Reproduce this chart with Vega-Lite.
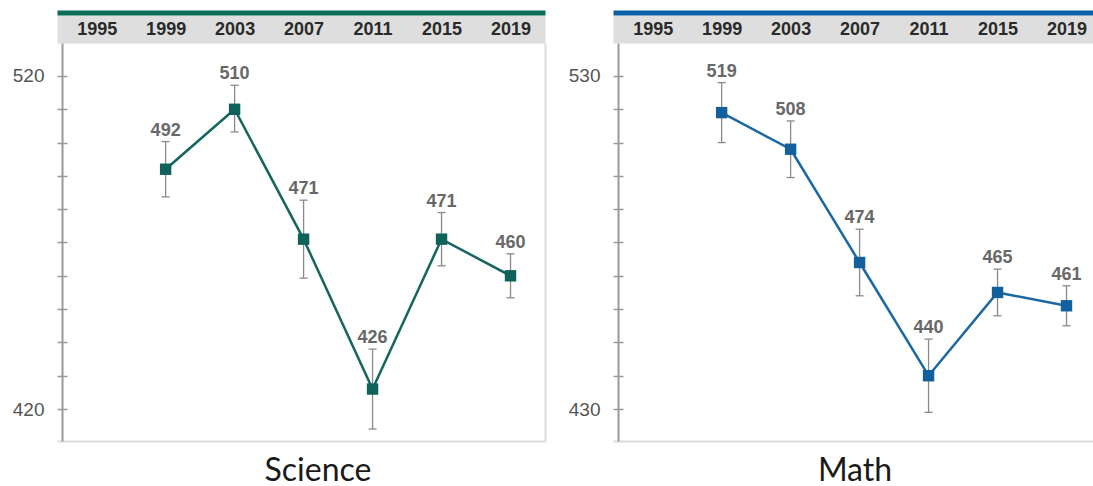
{
  "$schema": "https://vega.github.io/schema/vega-lite/v6.json",
  "padding": {"left": 12, "top": 12, "right": 0, "bottom": 0},
  "background": "white",
  "config": {"view": {"stroke": null}, "axis": {"grid": false}},
  "spacing": 23,
  "datasets": {
    "scores": [
      {"subject": "Science", "year": 1999, "score": 492, "lo": 483.7, "hi": 500.3},
      {"subject": "Science", "year": 2003, "score": 510, "lo": 503.2, "hi": 517.2},
      {"subject": "Science", "year": 2007, "score": 471, "lo": 459.3, "hi": 482.7},
      {"subject": "Science", "year": 2011, "score": 426, "lo": 414, "hi": 438},
      {"subject": "Science", "year": 2015, "score": 471, "lo": 463, "hi": 479},
      {"subject": "Science", "year": 2019, "score": 460, "lo": 453.4, "hi": 466.6},
      {"subject": "Math", "year": 1999, "score": 519, "lo": 510, "hi": 528},
      {"subject": "Math", "year": 2003, "score": 508, "lo": 499.5, "hi": 516.5},
      {"subject": "Math", "year": 2007, "score": 474, "lo": 464, "hi": 484},
      {"subject": "Math", "year": 2011, "score": 440, "lo": 429, "hi": 451},
      {"subject": "Math", "year": 2015, "score": 465, "lo": 458, "hi": 472},
      {"subject": "Math", "year": 2019, "score": 461, "lo": 455, "hi": 467}
    ]
  },
  "data": {"name": "scores"},
  "hconcat": [
    {
      "width": 488,
      "height": 398,
      "title": {"text": "Science", "orient": "bottom", "frame": "group", "anchor": "middle", "dx": 17, "offset": 15, "fontSize": 32, "font": "Lato", "fontWeight": "normal", "color": "#1a1a1a"},
      "transform": [{"filter": "datum.subject == 'Science'"}],
      "layer": [
        {
          "mark": {"type": "rule", "color": "#8a8a8a", "strokeWidth": 1.3},
          "encoding": {
            "x": {"field": "year", "type": "quantitative", "scale": {"domain": [1992.7, 2021], "nice": false, "zero": false},
              "axis": {"orient": "top", "title": null, "offset": 14, "domainWidth": 28, "domainColor": "#dedede", "domainCap": "butt", "ticks": false, "tickSize": 0, "labels": false, "zindex": 0}},
            "y": {"field": "lo", "type": "quantitative", "scale": {"domain": [410.4, 529.9], "nice": false, "zero": false},
              "axis": {"orient": "left", "offset": -10, "values": [420, 430, 440, 450, 460, 470, 480, 490, 500, 510, 520], "tickSize": 10, "tickColor": "#999999", "tickWidth": 1.5, "domain": false, "labels": false, "title": null}},
            "y2": {"field": "hi"}
          }
        },
        {
          "mark": {"type": "line", "color": "#15665e", "strokeWidth": 2.5},
          "encoding": {
            "x": {"field": "year", "type": "quantitative",
              "axis": {"orient": "top", "offset": 30.5, "domainWidth": 5, "domainColor": "#0b6e5a", "domainCap": "butt", "ticks": false, "tickSize": 0, "labels": false, "title": null}},
            "y": {"field": "score", "type": "quantitative",
              "axis": {"orient": "left", "offset": -5, "values": [420, 520], "ticks": false, "tickSize": 0, "domainColor": "#999999", "domainWidth": 2, "labelPadding": 18, "labelFont": "Liberation Sans", "labelFontSize": 19, "labelColor": "#555555", "title": null}}
          }
        },
        {
          "mark": {"type": "square", "color": "#0f625a", "filled": true, "opacity": 1, "size": 130},
          "encoding": {
            "x": {"field": "year", "type": "quantitative",
              "axis": {"orient": "bottom", "domainColor": "#dcdcdc", "domainWidth": 2, "ticks": false, "tickSize": 0, "labels": false, "title": null}},
            "y": {"field": "score", "type": "quantitative",
              "axis": {"orient": "right", "domainColor": "#dcdcdc", "domainWidth": 2, "ticks": false, "tickSize": 0, "labels": false, "title": null}}
          }
        },
        {
          "mark": {"type": "tick", "orient": "horizontal", "size": 8, "thickness": 1.3, "color": "#8a8a8a", "opacity": 1},
          "encoding": {
            "x": {"field": "year", "type": "quantitative",
              "axis": {"orient": "top", "values": [1995, 1999, 2003, 2007, 2011, 2015, 2019], "format": "d", "title": null, "offset": 14, "domain": false, "ticks": false, "tickSize": 0, "labelPadding": 0, "labelBaseline": "middle", "labelFlush": false, "labelFont": "Liberation Sans", "labelFontSize": 18, "labelFontWeight": "bold", "labelColor": "#2a2a2a", "zindex": 2}},
            "y": {"field": "lo", "type": "quantitative", "axis": null}
          }
        },
        {
          "mark": {"type": "tick", "orient": "horizontal", "size": 8, "thickness": 1.3, "color": "#8a8a8a", "opacity": 1},
          "encoding": {
            "x": {"field": "year", "type": "quantitative", "axis": null},
            "y": {"field": "hi", "type": "quantitative", "axis": null}
          }
        },
        {
          "mark": {"type": "text", "font": "Liberation Sans", "fontSize": 18, "fontWeight": "bold", "color": "#686868", "baseline": "alphabetic", "dy": -6},
          "encoding": {
            "x": {"field": "year", "type": "quantitative", "axis": null},
            "y": {"field": "hi", "type": "quantitative", "axis": null},
            "text": {"field": "score", "type": "quantitative"}
          }
        }
      ],
      "resolve": {"axis": {"x": "independent", "y": "independent"}}
    },
    {
      "width": 488,
      "height": 398,
      "title": {"text": "Math", "orient": "bottom", "frame": "group", "anchor": "middle", "dx": -2, "offset": 15, "fontSize": 32, "font": "Lato", "fontWeight": "normal", "color": "#1a1a1a"},
      "transform": [{"filter": "datum.subject == 'Math'"}],
      "layer": [
        {
          "mark": {"type": "rule", "color": "#8a8a8a", "strokeWidth": 1.3},
          "encoding": {
            "x": {"field": "year", "type": "quantitative", "scale": {"domain": [1992.7, 2021], "nice": false, "zero": false},
              "axis": {"orient": "top", "title": null, "offset": 14, "domainWidth": 28, "domainColor": "#dedede", "domainCap": "butt", "ticks": false, "tickSize": 0, "labels": false, "zindex": 0}},
            "y": {"field": "lo", "type": "quantitative", "scale": {"domain": [420.4, 539.9], "nice": false, "zero": false},
              "axis": {"orient": "left", "offset": -10, "values": [430, 440, 450, 460, 470, 480, 490, 500, 510, 520, 530], "tickSize": 10, "tickColor": "#999999", "tickWidth": 1.5, "domain": false, "labels": false, "title": null}},
            "y2": {"field": "hi"}
          }
        },
        {
          "mark": {"type": "line", "color": "#1b68a3", "strokeWidth": 2.5},
          "encoding": {
            "x": {"field": "year", "type": "quantitative",
              "axis": {"orient": "top", "offset": 30.5, "domainWidth": 5, "domainColor": "#0b61a8", "domainCap": "butt", "ticks": false, "tickSize": 0, "labels": false, "title": null}},
            "y": {"field": "score", "type": "quantitative",
              "axis": {"orient": "left", "offset": -5, "values": [430, 530], "ticks": false, "tickSize": 0, "domainColor": "#999999", "domainWidth": 2, "labelPadding": 18, "labelFont": "Liberation Sans", "labelFontSize": 19, "labelColor": "#555555", "title": null}}
          }
        },
        {
          "mark": {"type": "square", "color": "#13609e", "filled": true, "opacity": 1, "size": 130},
          "encoding": {
            "x": {"field": "year", "type": "quantitative",
              "axis": {"orient": "bottom", "domainColor": "#dcdcdc", "domainWidth": 2, "ticks": false, "tickSize": 0, "labels": false, "title": null}},
            "y": {"field": "score", "type": "quantitative", "axis": null}
          }
        },
        {
          "mark": {"type": "tick", "orient": "horizontal", "size": 8, "thickness": 1.3, "color": "#8a8a8a", "opacity": 1},
          "encoding": {
            "x": {"field": "year", "type": "quantitative",
              "axis": {"orient": "top", "values": [1995, 1999, 2003, 2007, 2011, 2015, 2019], "format": "d", "title": null, "offset": 14, "domain": false, "ticks": false, "tickSize": 0, "labelPadding": 0, "labelBaseline": "middle", "labelFlush": false, "labelFont": "Liberation Sans", "labelFontSize": 18, "labelFontWeight": "bold", "labelColor": "#2a2a2a", "zindex": 2}},
            "y": {"field": "lo", "type": "quantitative", "axis": null}
          }
        },
        {
          "mark": {"type": "tick", "orient": "horizontal", "size": 8, "thickness": 1.3, "color": "#8a8a8a", "opacity": 1},
          "encoding": {
            "x": {"field": "year", "type": "quantitative", "axis": null},
            "y": {"field": "hi", "type": "quantitative", "axis": null}
          }
        },
        {
          "mark": {"type": "text", "font": "Liberation Sans", "fontSize": 18, "fontWeight": "bold", "color": "#686868", "baseline": "alphabetic", "dy": -6},
          "encoding": {
            "x": {"field": "year", "type": "quantitative", "axis": null},
            "y": {"field": "hi", "type": "quantitative", "axis": null},
            "text": {"field": "score", "type": "quantitative"}
          }
        }
      ],
      "resolve": {"axis": {"x": "independent", "y": "independent"}}
    }
  ]
}
